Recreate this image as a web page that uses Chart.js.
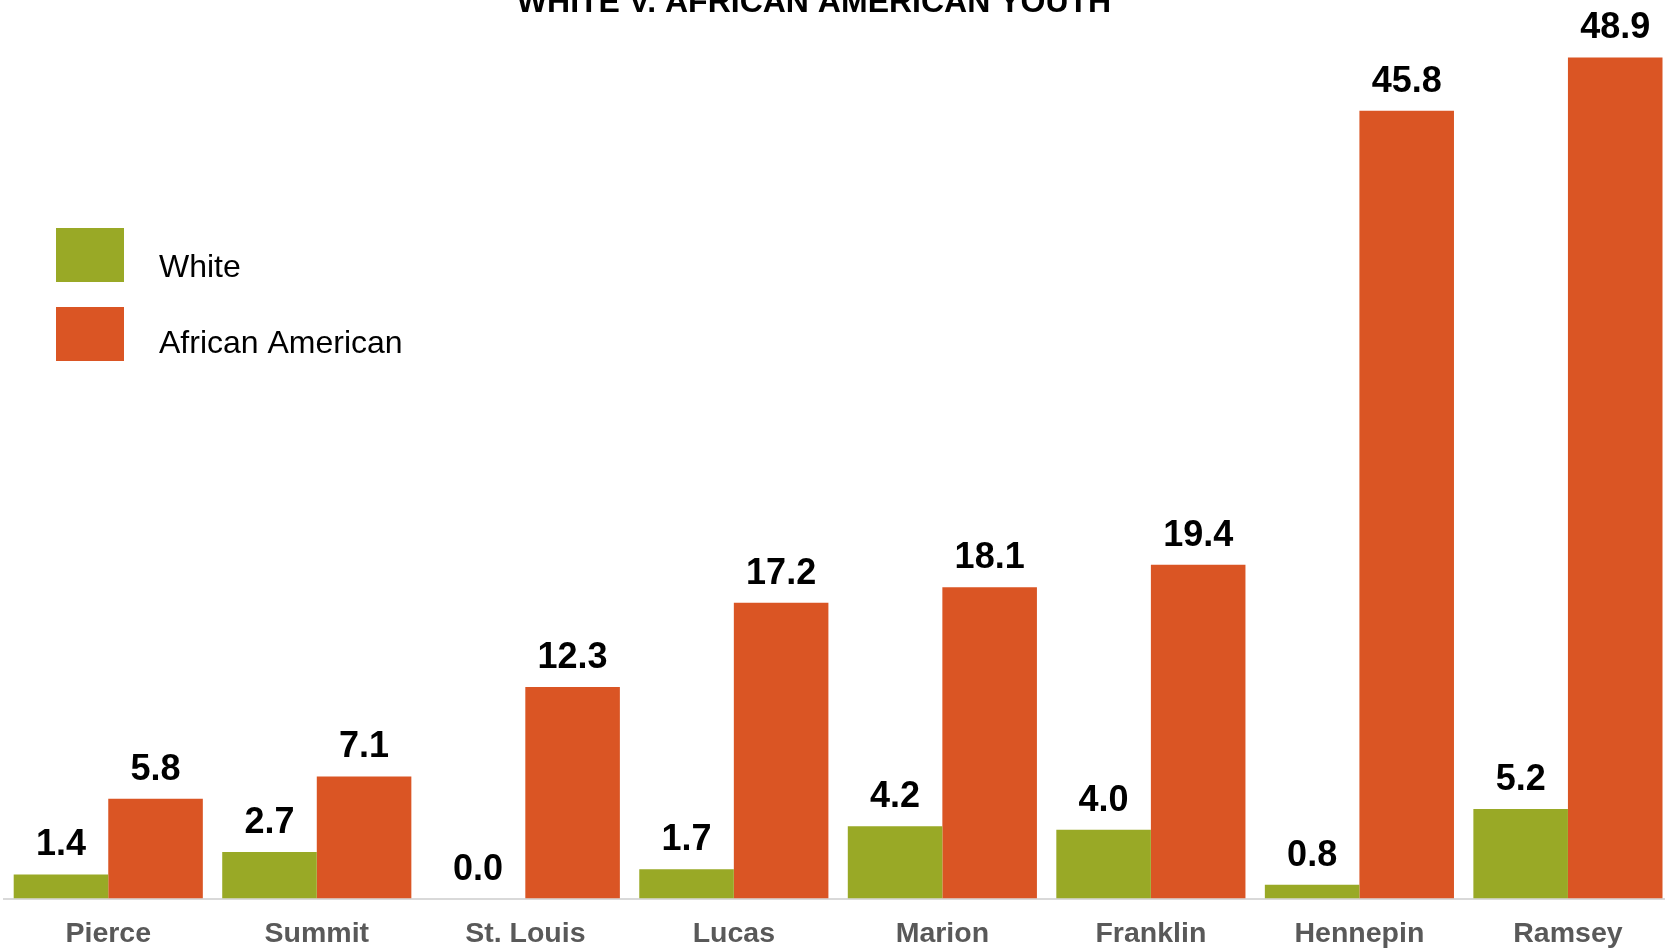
<!DOCTYPE html>
<html>
<head>
<meta charset="utf-8">
<script src="https://cdn.jsdelivr.net/npm/chart.js@4"></script>
<style>
  html, body { margin: 0; padding: 0; background: #ffffff; overflow: hidden; }
  #wrap { position: absolute; left: 0; top: 0; width: 1673px; height: 948px; }
</style>
</head>
<body>
<div id="wrap"><canvas id="chart" width="1673" height="948"></canvas></div>
<script>
// Counties compared
const counties = ["Pierce", "Summit", "St. Louis", "Lucas", "Marion", "Franklin", "Hennepin", "Ramsey"];
// Rates per county, by group
const whiteRates = [1.4, 2.7, 0.0, 1.7, 4.2, 4.0, 0.8, 5.2];
const africanAmericanRates = [5.8, 7.1, 12.3, 17.2, 18.1, 19.4, 45.8, 48.9];
const seriesNames = ["White", "African American"];
const seriesColors = ["#99a926", "#da5524"];
const chartTitle = "WHITE V. AFRICAN AMERICAN YOUTH";

const FONT = '"Liberation Sans", Arial, Helvetica, sans-serif';

// Heading across the top of the canvas
const titlePlugin = {
  id: 'topTitle',
  afterDraw(chart) {
    const ctx = chart.ctx;
    ctx.save();
    ctx.font = 'bold 32px ' + FONT;
    ctx.fillStyle = '#000000';
    ctx.textAlign = 'center';
    ctx.textBaseline = 'alphabetic';
    ctx.fillText(chartTitle, 814, 12);
    ctx.restore();
  }
};

// Value written above every bar
const valueLabels = {
  id: 'valueLabels',
  afterDatasetsDraw(chart) {
    const ctx = chart.ctx;
    ctx.save();
    ctx.font = 'bold 36px ' + FONT;
    ctx.fillStyle = '#000000';
    ctx.textAlign = 'center';
    ctx.textBaseline = 'alphabetic';
    chart.data.datasets.forEach((ds, i) => {
      const meta = chart.getDatasetMeta(i);
      meta.data.forEach((bar, j) => {
        ctx.fillText(ds.data[j].toFixed(1), bar.x, bar.y - 19);
      });
    });
    ctx.restore();
  }
};

// Square swatches with series names, upper left
const swatchLegend = {
  id: 'swatchLegend',
  afterDraw(chart) {
    const ctx = chart.ctx;
    ctx.save();
    ctx.font = '32px ' + FONT;
    ctx.textAlign = 'left';
    ctx.textBaseline = 'alphabetic';
    const textOffsets = [49, 46];
    chart.data.datasets.forEach((ds, i) => {
      const top = 228 + i * 79;
      ctx.fillStyle = ds.backgroundColor;
      ctx.fillRect(56, top, 68, 54);
      ctx.fillStyle = '#000000';
      ctx.fillText(ds.label, 159, top + textOffsets[i]);
    });
    ctx.restore();
  }
};

new Chart(document.getElementById('chart'), {
  type: 'bar',
  data: {
    labels: counties,
    datasets: [
      { label: seriesNames[0], data: whiteRates, backgroundColor: seriesColors[0], borderWidth: 0 },
      { label: seriesNames[1], data: africanAmericanRates, backgroundColor: seriesColors[1], borderWidth: 0 }
    ]
  },
  options: {
    responsive: false,
    animation: false,
    devicePixelRatio: 1,
    layout: { padding: { left: 4, right: 0.8, top: 38.5, bottom: 0 } },
    datasets: { bar: { categoryPercentage: 0.907, barPercentage: 1.0 } },
    plugins: {
      legend: { display: false },
      title: { display: false },
      tooltip: { enabled: false }
    },
    scales: {
      x: {
        grid: { display: false, drawTicks: false },
        border: { display: true, color: '#d9d9d9', width: 2 },
        ticks: {
          color: '#595959',
          font: { family: FONT, size: 28.5, weight: 'bold' },
          padding: 19,
          maxRotation: 0,
          autoSkip: false
        },
        afterFit(scale) { scale.height = 49.5; }
      },
      y: {
        display: false,
        min: 0,
        max: 50
      }
    }
  },
  plugins: [titlePlugin, valueLabels, swatchLegend]
});
</script>
</body>
</html>
